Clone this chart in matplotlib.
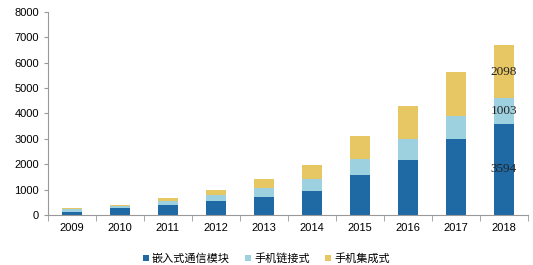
import numpy as np
import matplotlib.pyplot as plt

years = ["2009", "2010", "2011", "2012", "2013", "2014", "2015", "2016", "2017", "2018"]
embedded = [130, 260, 400, 550, 720, 960, 1590, 2150, 2990, 3594]
phone_link = [100, 110, 160, 240, 355, 470, 600, 830, 910, 1003]
phone_integrated = [40, 40, 90, 195, 325, 550, 910, 1310, 1730, 2098]
series_names = ["嵌入式通信模块", "手机链接式", "手机集成式"]
colors = ["#1f6aa5", "#9dd1e0", "#e6c764"]

plt.rcParams['font.family'] = ['Liberation Sans', 'Noto Sans CJK SC', 'DejaVu Sans']

fig = plt.figure(figsize=(5.33, 2.65), dpi=100)
ax = fig.add_axes([0.09, 0.189, 0.9, 0.766])

x = np.arange(len(years))
w = 0.41
b1 = np.array(embedded)
b2 = b1 + np.array(phone_link)
ax.bar(x, embedded, w, color=colors[0], label=series_names[0])
ax.bar(x, phone_link, w, bottom=b1, color=colors[1], label=series_names[1])
ax.bar(x, phone_integrated, w, bottom=b2, color=colors[2], label=series_names[2])

# labels on the last bar
i = len(years) - 1
for val, bot in [(embedded[i], 0), (phone_link[i], b1[i]), (phone_integrated[i], b2[i])]:
    ax.text(x[i], bot + val / 2, str(val), ha='center', va='center',
            fontsize=9.5, family='Liberation Serif', color='#222222')

ax.set_xlim(-0.5, len(years) - 0.5)
ax.set_ylim(0, 8000)
ax.set_yticks(np.arange(0, 8001, 1000))
ax.set_xticks(x)
ax.set_xticklabels(years)
ax.set_xticks(np.arange(-0.5, len(years), 1), minor=True)
ax.tick_params(axis='x', which='major', length=0, labelsize=8, pad=6)
ax.tick_params(axis='x', which='minor', length=4, color='#999999', direction='out')
ax.tick_params(axis='y', length=3, color='#999999', labelsize=8)

for s in ['top', 'right']:
    ax.spines[s].set_visible(False)
for s in ['left', 'bottom']:
    ax.spines[s].set_color('#999999')

fig.legend(loc='lower center', bbox_to_anchor=(0.5, -0.035), ncol=3, frameon=False,
           handlelength=0.5, handleheight=0.5, handletextpad=0.3,
           columnspacing=1.4, prop={'family': ['Noto Sans CJK SC'], 'size': 8})

fig.savefig("out.png", dpi=100)
